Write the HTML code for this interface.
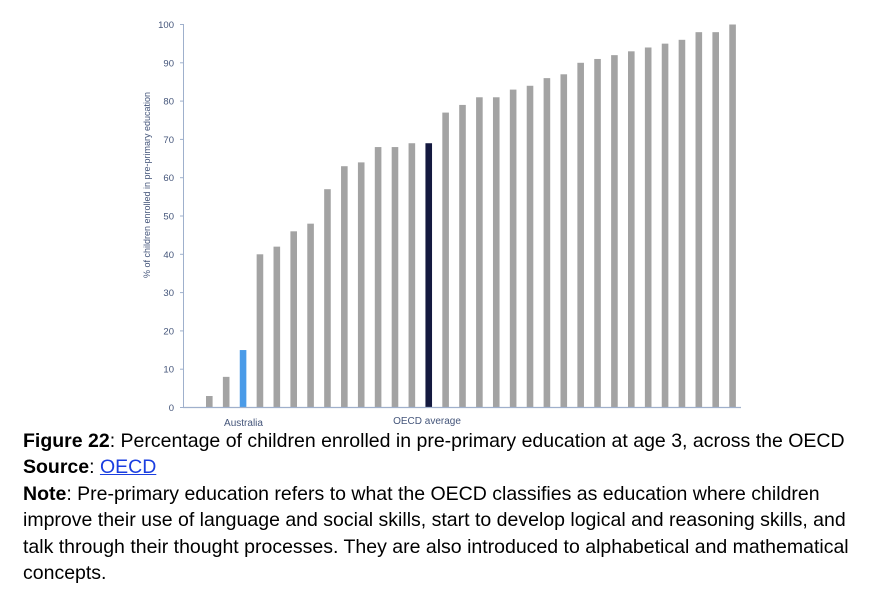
<!DOCTYPE html>
<html><head><meta charset="utf-8"><style>
body{margin:0;background:#fff;width:895px;height:598px;overflow:hidden;position:relative;font-family:"Liberation Sans",Arial,sans-serif}
svg{position:absolute;left:0;top:0}
.t{position:absolute;left:23px;top:428px;font-size:19.5px;line-height:26.4px;color:#000;width:872px;white-space:nowrap}
a{color:#1a3ee0;text-decoration:underline}
</style></head><body>
<svg width="895" height="430" xmlns="http://www.w3.org/2000/svg" font-family="Liberation Sans, sans-serif">
<g id="bars"></g>
<line x1="183.5" y1="24" x2="183.5" y2="407.5" stroke="#9fb0cc" stroke-width="1"/>
<line x1="183" y1="407.5" x2="741" y2="407.5" stroke="#9fb0cc" stroke-width="1.2"/>
<g font-size="9.5" fill="#44557a" text-anchor="end" id="ticks"></g>
<text transform="translate(150,185) rotate(-90)" font-size="9" fill="#44557a" text-anchor="middle">% of children enrolled in pre-primary education</text>
<text x="243.5" y="426" font-size="10" fill="#44557a" text-anchor="middle">Australia</text>
<text x="427" y="424" font-size="10" fill="#44557a" text-anchor="middle">OECD average</text>
</svg>
<div class="t"><b>Figure 22</b>: Percentage of children enrolled in pre-primary education at age 3, across the OECD<br><b>Source</b>: <a>OECD</a><br><b>Note</b>: Pre-primary education refers to what the OECD classifies as education where children<br>improve their use of language and social skills, start to develop logical and reasoning skills, and<br>talk through their thought processes. They are also introduced to alphabetical and mathematical<br>concepts.</div>
<script>
var v=[3,8,15,40,42,46,48,57,63,64,68,68,69,69,77,79,81,81,83,84,86,87,90,91,92,93,94,95,96,98,98,100];
var ns="http://www.w3.org/2000/svg",g=document.getElementById("bars"),t=document.getElementById("ticks");
v.forEach(function(d,i){var r=document.createElementNS(ns,"rect");var cx=209.3+i*16.88;var h=d*3.83;
r.setAttribute("x",cx-3.3);r.setAttribute("width",6.6);r.setAttribute("y",407.5-h);r.setAttribute("height",h);
r.setAttribute("fill",i==2?"#4a9be8":i==13?"#14193f":"#a3a3a3");g.appendChild(r);});
for(var k=0;k<=100;k+=10){var y=407.5-k*3.83;var tx=document.createElementNS(ns,"text");tx.setAttribute("x",174);tx.setAttribute("y",y+3.5);tx.textContent=k;t.appendChild(tx);
var l=document.createElementNS(ns,"line");l.setAttribute("x1",180);l.setAttribute("x2",184);l.setAttribute("y1",y);l.setAttribute("y2",y);l.setAttribute("stroke","#9fb0cc");t.appendChild(l);}
</script>
</body></html>
